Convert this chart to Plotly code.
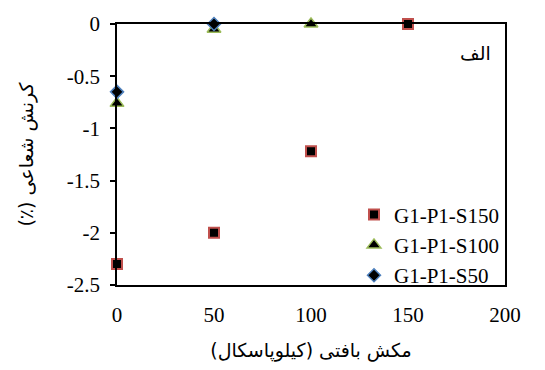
import plotly.graph_objects as go

# Matric suction (kPa) and radial strain (%) for each specimen
suction_s150 = [0, 50, 100, 150]
strain_s150 = [-2.3, -2.0, -1.22, 0.0]

suction_s100 = [0, 50, 100]
strain_s100 = [-0.76, -0.05, 0.0]

suction_s50 = [0, 50]
strain_s50 = [-0.65, 0.0]

x_ticks = [0, 50, 100, 150, 200]
y_ticks = [0, -0.5, -1, -1.5, -2, -2.5]
y_tick_text = ["0", "-0.5", "-1", "-1.5", "-2", "-2.5"]

RLM = "\u200f"
x_title = RLM + "مکش بافتی (کیلوپاسکال)" + RLM
y_title = RLM + "کرنش شعاعی (٪)" + RLM
panel_label = "الف"

FONT = "Liberation Serif"
FA_FONT = "DejaVu Sans"

fig = go.Figure()

fig.add_trace(go.Scatter(
    x=suction_s150, y=strain_s150, mode="markers", name="G1-P1-S150",
    cliponaxis=False,
    marker=dict(symbol="square", size=10, color="black",
                line=dict(color="#C0504D", width=2)),
))
fig.add_trace(go.Scatter(
    x=suction_s100, y=strain_s100, mode="markers", name="G1-P1-S100",
    cliponaxis=False,
    marker=dict(symbol="triangle-up", size=12, color="black",
                line=dict(color="#9BBB59", width=1.5)),
))
fig.add_trace(go.Scatter(
    x=suction_s50, y=strain_s50, mode="markers", name="G1-P1-S50",
    cliponaxis=False,
    marker=dict(symbol="diamond", size=10, color="black",
                line=dict(color="#4F81BD", width=1.5)),
))

fig.add_annotation(
    text=panel_label, xref="paper", yref="paper", x=0.97, y=0.89,
    xanchor="right", yanchor="middle", showarrow=False,
    font=dict(family=FA_FONT, size=19, color="black"),
)

fig.update_layout(
    width=545, height=370,
    margin=dict(l=117, r=40, t=19, b=81),
    paper_bgcolor="white", plot_bgcolor="white",
    font=dict(family=FONT, size=21, color="black"),
    showlegend=True,
    legend=dict(
        x=1.0, y=-0.04, xanchor="right", yanchor="bottom",
        bgcolor="rgba(0,0,0,0)", borderwidth=0,
        font=dict(family=FONT, size=21, color="black"),
        itemwidth=30, tracegroupgap=0,
    ),
    xaxis=dict(
        range=[0, 200], tickvals=x_ticks,
        tickfont=dict(family=FONT, size=21),
        showline=True, linecolor="black", linewidth=1.5, mirror=True,
        showgrid=False, zeroline=False, ticks="",
        ticklabelstandoff=10,
        title=dict(text=x_title, standoff=18,
                   font=dict(family=FA_FONT, size=19)),
    ),
    yaxis=dict(
        range=[-2.5, 0], tickvals=y_ticks, ticktext=y_tick_text,
        tickfont=dict(family=FONT, size=21),
        showline=True, linecolor="black", linewidth=1.5, mirror=True,
        showgrid=False, zeroline=False,
        ticks="outside", ticklen=5, tickwidth=1.5, tickcolor="black",
        ticklabelstandoff=6,
        title=dict(text=y_title, standoff=28,
                   font=dict(family=FA_FONT, size=19)),
    ),
)

fig.write_html("out.html")
